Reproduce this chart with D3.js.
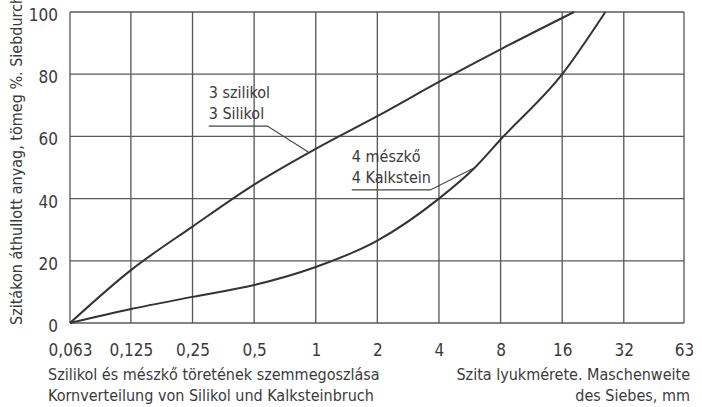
<!DOCTYPE html>
<html>
<head>
<meta charset="utf-8">
<script src="https://cdn.jsdelivr.net/npm/d3@7"></script>
<style>
  body { margin: 0; background: #fff; }
  text { font-family: "Liberation Sans Narrow", "DejaVu Sans Condensed", "Arial Narrow", sans-serif; fill: #3a3a3a; }
</style>
</head>
<body>
<div id="chart"></div>
<script>
var svgWidth = 702;
var svgHeight = 407;

var margin = {
  top: 12,
  right: 18,
  bottom: 84,
  left: 70
};

var width = svgWidth - margin.left - margin.right;
var height = svgHeight - margin.top - margin.bottom;

// sieve sizes (mm) and their printed labels
var sieveSizes = [0.063, 0.125, 0.25, 0.5, 1, 2, 4, 8, 16, 32, 63];
var sieveLabels = ["0,063", "0,125", "0,25", "0,5", "1", "2", "4", "8", "16", "32", "63"];
var percentTicks = [0, 20, 40, 60, 80, 100];

// 3 Silikol - passing %
var silikolSize = [0.063, 0.125, 0.25, 0.5, 1, 2, 4, 8, 18.3];
var silikolPass = [0, 17, 31, 44.5, 56, 66.5, 77.5, 88, 100];

// 4 Kalkstein - passing %
var kalkSize = [0.063, 0.125, 0.25, 0.5, 1, 2, 4, 6, 8, 16, 26];
var kalkPass = [0, 4.5, 8.4, 12.2, 18, 26.5, 40, 50, 59, 80, 100];

var svg = d3.select("#chart")
  .append("svg")
  .attr("width", svgWidth)
  .attr("height", svgHeight);

var chartGroup = svg.append("g")
  .attr("transform", `translate(${margin.left}, ${margin.top})`);

// scales
var xScale = d3.scaleLog()
  .domain([0.063, 63])
  .range([0, width]);

var yScale = d3.scaleLinear()
  .domain([0, 100])
  .range([height, 0]);

// grid
chartGroup.append("g")
  .selectAll("line")
  .data(percentTicks)
  .enter()
  .append("line")
  .attr("x1", 0)
  .attr("x2", width)
  .attr("y1", d => yScale(d))
  .attr("y2", d => yScale(d))
  .attr("stroke", "#5e5759")
  .attr("stroke-width", 1.3);

chartGroup.append("g")
  .selectAll("line")
  .data(sieveSizes)
  .enter()
  .append("line")
  .attr("x1", d => xScale(d))
  .attr("x2", d => xScale(d))
  .attr("y1", 0)
  .attr("y2", height)
  .attr("stroke", "#555")
  .attr("stroke-width", 1.3);

// axes (labels only)
var bottomAxis = d3.axisBottom(xScale)
  .tickValues(sieveSizes)
  .tickFormat((d, i) => sieveLabels[i])
  .tickSize(0)
  .tickPadding(21);

var leftAxis = d3.axisLeft(yScale)
  .tickValues(percentTicks)
  .tickSize(0)
  .tickPadding(12);

var xAxis = chartGroup.append("g")
  .attr("transform", `translate(0, ${height})`)
  .call(bottomAxis);

var yAxis = chartGroup.append("g")
  .call(leftAxis);

[xAxis, yAxis].forEach(function(ax) {
  ax.select(".domain").remove();
  ax.selectAll("text")
    .style("font-size", "17px")
    .style("font-family", null)
    .attr("fill", "#3a3a3a");
});
yAxis.selectAll("text").attr("dy", "0.5em");

// curves
var line = d3.line()
  .x(d => xScale(d[0]))
  .y(d => yScale(d[1]))
  .curve(d3.curveMonotoneX);

var silikolData = silikolSize.map((s, i) => [s, silikolPass[i]]);
var kalkData = kalkSize.map((s, i) => [s, kalkPass[i]]);

chartGroup.selectAll(".curve")
  .data([silikolData, kalkData])
  .enter()
  .append("path")
  .attr("class", "curve")
  .attr("d", line)
  .attr("fill", "none")
  .attr("stroke", "#333")
  .attr("stroke-width", 2);

// curve labels with leader lines
var labels = [
  { lines: ["3 szilikol", "3 Silikol"], x: 0.30, y: 72.3, endX: 0.58, pointX: 0.92, pointY: 55 },
  { lines: ["4 mészkő", "4 Kalkstein"], x: 1.5, y: 51.8, endX: 3.63, pointX: 6, pointY: 50 }
];

labels.forEach(function(lab) {
  var tx = xScale(lab.x);
  var ty = yScale(lab.y);
  var label = chartGroup.append("text")
    .attr("x", tx)
    .attr("y", ty)
    .style("font-size", "16px");
  label.selectAll("tspan")
    .data(lab.lines)
    .enter()
    .append("tspan")
    .attr("x", tx)
    .attr("dy", (d, i) => i === 0 ? 0 : 21)
    .text(d => d);

  var uy = ty + 28;
  chartGroup.append("polyline")
    .attr("points", [[tx, uy], [xScale(lab.endX), uy], [xScale(lab.pointX), yScale(lab.pointY)]].join(" "))
    .attr("fill", "none")
    .attr("stroke", "#444")
    .attr("stroke-width", 1.1);
});

// y title (runs off the top edge, as in the original scan)
svg.append("text")
  .attr("transform", "translate(22, 325) rotate(-90)")
  .attr("text-anchor", "start")
  .style("font-size", "16px")
  .text("Szitákon áthullott anyag, tömeg %. Siebdurchgang, Gew.-%");

// bottom captions
svg.append("text")
  .attr("x", 48)
  .attr("y", 380)
  .style("font-size", "16px")
  .text("Szilikol és mészkő töretének szemmegoszlása");

svg.append("text")
  .attr("x", 48)
  .attr("y", 401)
  .style("font-size", "16px")
  .text("Kornverteilung von Silikol und Kalksteinbruch");

svg.append("text")
  .attr("x", 690)
  .attr("y", 380)
  .attr("text-anchor", "end")
  .style("font-size", "16px")
  .text("Szita lyukmérete. Maschenweite");

svg.append("text")
  .attr("x", 690)
  .attr("y", 401)
  .attr("text-anchor", "end")
  .style("font-size", "16px")
  .text("des Siebes, mm");
</script>
</body>
</html>
